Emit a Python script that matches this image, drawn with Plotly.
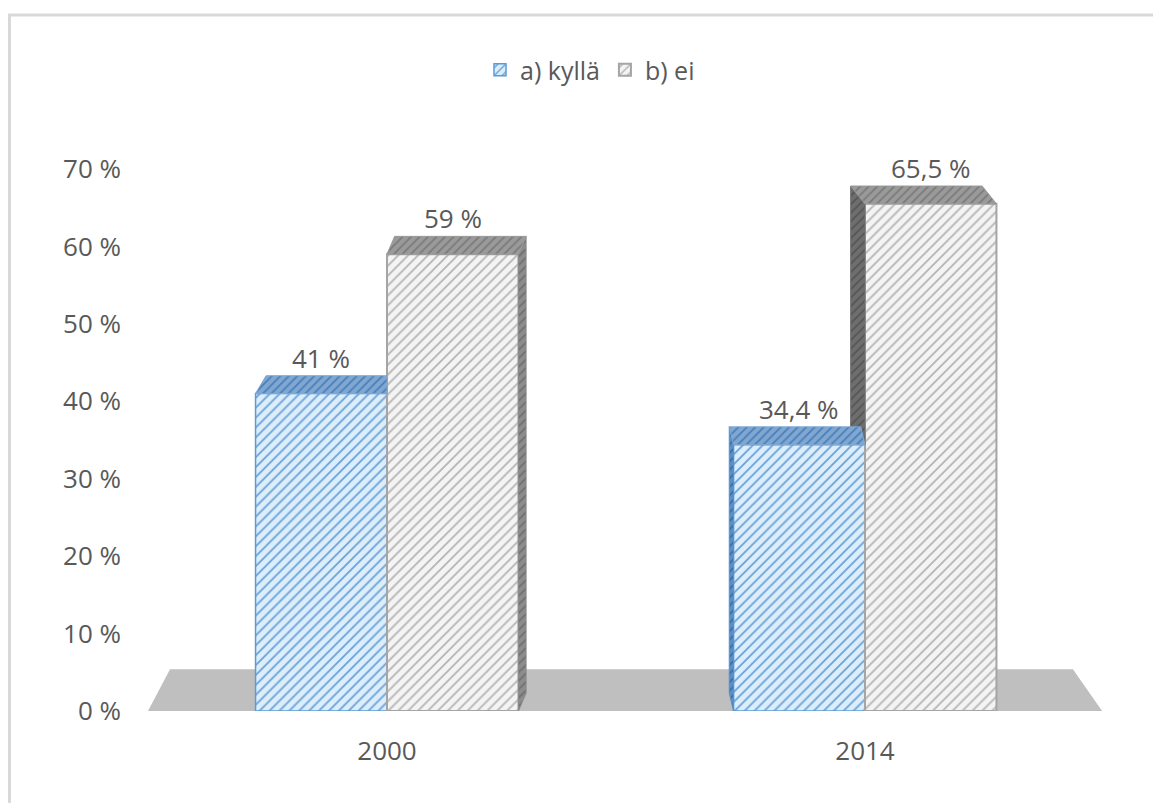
"""Kyllä / ei -vastausten osuudet vuosina 2000 ja 2014 (pylväskaavio)."""

import plotly.graph_objects as go

YEARS = ["2000", "2014"]
SERIES = ["a) kyllä", "b) ei"]
KYLLA = [41.0, 34.4]
EI = [59.0, 65.5]
KYLLA_LABELS = ["41 %", "34,4 %"]
EI_LABELS = ["59 %", "65,5 %"]
Y_TICKS = [0, 10, 20, 30, 40, 50, 60, 70]
Y_TICK_LABELS = ["0 %", "10 %", "20 %", "30 %", "40 %", "50 %", "60 %", "70 %"]

TEXT = "#595959"
FONT = "Open Sans"
BLUE_BG, BLUE_FG, BLUE_TOP = "#dcedfb", "#6aa2d8", "#7fa7d2"
GRAY_BG, GRAY_FG, GRAY_TOP = "#f4f4f4", "#b4b4b4", "#9a9a9a"

PAGE_OFF = 8                # body margin of the html page
W, H = 1161 - PAGE_OFF, 803 - PAGE_OFF
L, R, T, B = 140, 57, 161, 92
BAR_W = 0.275               # (1 - bargap) / 2
DEPTH = 2.3                 # height of the 3D top face in %
SKEW_K = [0.022, -0.009]    # sideways shift of the back edge, kyllä bars
SKEW_E = [0.016, -0.03]     # same for ei bars


def px_to_paper(x, y):
    """Convert page pixels to paper coordinates of the plot area."""
    pw, ph = W - L - R, H - T - B
    return (x - PAGE_OFF - L) / pw, (H - B - (y - PAGE_OFF)) / ph


def face(xs, ys, color, fg):
    return go.Scatter(
        x=xs, y=ys, mode="lines", fill="toself",
        fillcolor=color, line=dict(color=color, width=1),
        fillpattern=dict(shape="/", size=6, solidity=0.3, fgcolor=fg,
                         bgcolor=color, fillmode="replace"),
        showlegend=False, hoverinfo="skip",
    )


xpos = list(range(len(YEARS)))
fig = go.Figure()

fig.add_trace(go.Bar(
    name=SERIES[0], x=xpos, y=KYLLA,
    marker=dict(color=BLUE_BG, line=dict(color="#5b9bd5", width=1.5),
                pattern=dict(shape="/", size=7, solidity=0.25,
                             fgcolor=BLUE_FG, bgcolor=BLUE_BG)),
    hoverinfo="skip",
))
fig.add_trace(go.Bar(
    name=SERIES[1], x=xpos, y=EI,
    marker=dict(color=GRAY_BG, line=dict(color="#a5a5a5", width=2),
                pattern=dict(shape="/", size=7, solidity=0.25,
                             fgcolor=GRAY_FG, bgcolor=GRAY_BG)),
    hoverinfo="skip",
))

# 3D side and top faces, derived from the values
for i, x in enumerate(xpos):
    dk, de = SKEW_K[i], SKEW_E[i]
    k, e = KYLLA[i], EI[i]
    if de > 0:
        # right side of the "ei" bar
        xe = x + BAR_W
        fig.add_trace(face([xe, xe, xe + de, xe + de, xe],
                           [0, e, e + DEPTH, DEPTH, 0], "#8c8c8c", "#6f6f6f"))
        # kyllä top face, cut where the ei bar hides it
        x0 = x - BAR_W
        fig.add_trace(face([x0, x, x, x0 + dk, x0],
                           [k, k, k + DEPTH, k + DEPTH, k], BLUE_TOP, "#4a7fb8"))
    else:
        # thin left side of the kyllä bar, left side of the ei bar
        xk = x - BAR_W
        fig.add_trace(face([xk, xk, xk + dk, xk + dk, xk],
                           [0, k, k + DEPTH, DEPTH, 0], "#5b8fc8", "#3a6fa6"))
        fig.add_trace(face([x, x, x + de, x + de, x],
                           [k, e, e + DEPTH, k + DEPTH, k], "#6e6e6e", "#555555"))
        x0 = x - BAR_W
        fig.add_trace(face([x0, x, x + dk, x0 + dk, x0],
                           [k, k, k + DEPTH, k + DEPTH, k], BLUE_TOP, "#4a7fb8"))
    # ei top face
    fig.add_trace(face([x, x + BAR_W, x + BAR_W + de, x + de, x],
                       [e, e, e + DEPTH, e + DEPTH, e], GRAY_TOP, "#7a7a7a"))

# value labels above the bars
for i, x in enumerate(xpos):
    for xc, v, lab in [(x - BAR_W / 2, KYLLA[i], KYLLA_LABELS[i]),
                       (x + BAR_W / 2, EI[i], EI_LABELS[i])]:
        fig.add_annotation(x=xc, y=v, text=lab, showarrow=False, yshift=36,
                           font=dict(size=26, color=TEXT, family=FONT))

# floor of the 3D chart
fig.add_shape(type="path", layer="below", xref="x", yref="y",
              path="M -0.5 0 L 1.496 0 L 1.435 5.4 L -0.454 5.4 Z",
              fillcolor="#bfbfbf", line=dict(width=0))

# chart border
bx0, by0 = px_to_paper(9.5, 815)
bx1, by1 = px_to_paper(1175, 15)
fig.add_shape(type="rect", xref="paper", yref="paper",
              x0=bx0, y0=by0, x1=bx1, y1=by1,
              line=dict(color="#d9d9d9", width=3), fillcolor="rgba(0,0,0,0)")

lx, ly = px_to_paper(590, 70)
fig.update_layout(
    template="none",
    width=W, height=H,
    margin=dict(l=L, r=R, t=T, b=B),
    paper_bgcolor="white", plot_bgcolor="white",
    font=dict(family=FONT, size=26, color=TEXT),
    barmode="group", bargap=0.45, bargroupgap=0,
    showlegend=True,
    legend=dict(orientation="h", x=lx, y=ly, xanchor="center", yanchor="middle",
                font=dict(size=25, color=TEXT), itemwidth=30,
                traceorder="normal"),
    xaxis=dict(range=[-0.5, 1.5], tickvals=xpos, ticktext=YEARS,
               showgrid=False, zeroline=False, showline=False, ticks="",
               ticklabelstandoff=22, automargin=False, fixedrange=True),
    yaxis=dict(range=[0, 70], tickvals=Y_TICKS, ticktext=Y_TICK_LABELS,
               showgrid=False, zeroline=False, showline=False, ticks="",
               ticklabelstandoff=26, automargin=False, fixedrange=True),
)

fig.write_html("out.html")
